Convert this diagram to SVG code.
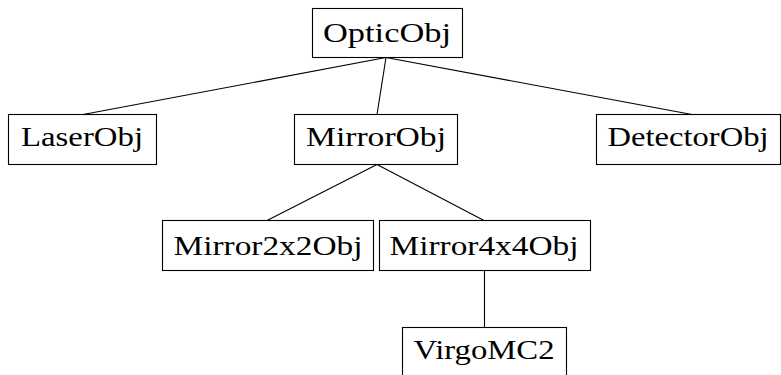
<svg xmlns="http://www.w3.org/2000/svg" width="781" height="375" viewBox="0 0 781 375">
  <style>
    .box { fill: #ffffff; stroke: #000000; stroke-width: 1.1; }
    .lbl { font-family: "Liberation Serif", "DejaVu Serif", serif; font-size: 28px; fill: #000000; text-anchor: middle; }
    .edge { stroke: #000000; stroke-width: 1.1; fill: none; }
  </style>
  <rect width="781" height="375" fill="#ffffff"/>

  <!-- class hierarchy connectors -->
  <g id="connectors">
    <line class="edge" x1="386" y1="57.5" x2="83" y2="114.5"/>
    <line class="edge" x1="386" y1="57.5" x2="377" y2="114.5"/>
    <line class="edge" x1="386" y1="57.5" x2="692" y2="114.5"/>
    <line class="edge" x1="377" y1="164.5" x2="267" y2="220.5"/>
    <line class="edge" x1="377" y1="164.5" x2="484" y2="220.5"/>
    <line class="edge" x1="484.5" y1="270.5" x2="484.5" y2="327.5"/>
  </g>

  <g id="OpticObj">
    <rect class="box" x="312.5" y="8.5" width="150" height="49"/>
    <text class="lbl" x="387" y="42" textLength="128" lengthAdjust="spacingAndGlyphs">OpticObj</text>
  </g>

  <g id="LaserObj">
    <rect class="box" x="8.5" y="114.5" width="148" height="50"/>
    <text class="lbl" x="82" y="146" textLength="122" lengthAdjust="spacingAndGlyphs">LaserObj</text>
  </g>

  <g id="MirrorObj">
    <rect class="box" x="294.5" y="114.5" width="163" height="50"/>
    <text class="lbl" x="376" y="146" textLength="140" lengthAdjust="spacingAndGlyphs">MirrorObj</text>
  </g>

  <g id="DetectorObj">
    <rect class="box" x="596.5" y="114.5" width="184" height="50"/>
    <text class="lbl" x="688" y="146" textLength="161" lengthAdjust="spacingAndGlyphs">DetectorObj</text>
  </g>

  <g id="Mirror2x2Obj">
    <rect class="box" x="162.5" y="220.5" width="211" height="50"/>
    <text class="lbl" x="268" y="255" textLength="189" lengthAdjust="spacingAndGlyphs">Mirror2x2Obj</text>
  </g>

  <g id="Mirror4x4Obj">
    <rect class="box" x="379.5" y="220.5" width="211" height="50"/>
    <text class="lbl" x="484" y="255" textLength="189" lengthAdjust="spacingAndGlyphs">Mirror4x4Obj</text>
  </g>

  <g id="VirgoMC2">
    <rect class="box" x="402.5" y="327.5" width="164" height="50"/>
    <text class="lbl" x="484" y="359" textLength="141" lengthAdjust="spacingAndGlyphs">VirgoMC2</text>
  </g>
</svg>
